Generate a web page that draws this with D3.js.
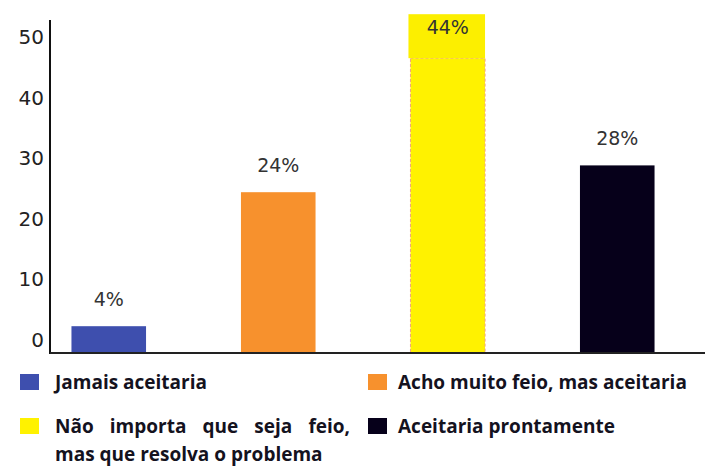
<!DOCTYPE html>
<html>
<head>
<meta charset="utf-8">
<script src="https://cdn.jsdelivr.net/npm/d3@7"></script>
<style>
  body { margin: 0; background: #fff; }
  svg { display: block; }
</style>
</head>
<body>
<div id="chart"></div>
<script>
// Data
const categories = ["Jamais aceitaria", "Acho muito feio, mas aceitaria",
  "Não importa que seja feio, mas que resolva o problema", "Aceitaria prontamente"];
const values = [4, 24, 44, 28];
const colors = ["#3e4fae", "#f7912d", "#fff200", "#06001a"];
const tickValues = [0, 10, 20, 30, 40, 50];

// Sets the size of the picture
const svgWidth = 705;
const svgHeight = 467;
const baseY = 353;
const axisX = 50;

const svg = d3.select("#chart").append("svg")
  .attr("width", svgWidth)
  .attr("height", svgHeight);

svg.append("rect").attr("width", svgWidth).attr("height", svgHeight).attr("fill", "#fff");

// Scales
const xScale = d3.scaleBand()
  .domain(categories)
  .range([24, 702])
  .paddingInner(0.56)
  .paddingOuter(0.28);

const yScale = d3.scaleLinear().domain([0, 50]).range([baseY, baseY - 335]);

// tick labels sit a bit above the bars' baseline in the original
const tickScale = d3.scaleLinear().domain([0, 50]).range([340, 37]);

// Bars
svg.selectAll(".bar")
  .data(values)
  .enter()
  .append("rect")
  .attr("class", "bar")
  .attr("x", (d, i) => xScale(categories[i]))
  .attr("width", xScale.bandwidth())
  .attr("y", d => yScale(d))
  .attr("height", d => baseY - yScale(d))
  .attr("fill", (d, i) => colors[i])
  .attr("stroke", (d, i) => i === 2 ? "#f2a080" : "none")
  .attr("stroke-dasharray", "3,2");

// Highlight box behind the biggest value
const maxIdx = values.indexOf(d3.max(values));
svg.append("rect")
  .attr("x", xScale(categories[maxIdx]) - 2)
  .attr("width", xScale.bandwidth() + 2)
  .attr("y", yScale(values[maxIdx]) - 44)
  .attr("height", 44)
  .attr("fill", "#fcef00");

// Value labels
svg.selectAll(".val")
  .data(values)
  .enter()
  .append("text")
  .attr("class", "val")
  .attr("x", (d, i) => xScale(categories[i]) + xScale.bandwidth() / 2)
  .attr("y", (d, i) => i === maxIdx ? yScale(d) - 24 : yScale(d) - 20)
  .attr("text-anchor", "middle")
  .style("font", "19px 'DejaVu Sans', sans-serif")
  .style("fill", "#333")
  .text(d => d + "%");

// Axes lines
svg.append("line")
  .attr("x1", axisX).attr("x2", axisX)
  .attr("y1", 20).attr("y2", baseY + 1)
  .attr("stroke", "#111").attr("stroke-width", 2);

svg.append("line")
  .attr("x1", axisX).attr("x2", svgWidth)
  .attr("y1", baseY).attr("y2", baseY)
  .attr("stroke", "#222").attr("stroke-width", 2);

// Tick labels
const leftAxis = d3.axisLeft(tickScale).tickValues(tickValues).tickSize(0).tickPadding(0);
const yAxisG = svg.append("g")
  .attr("transform", "translate(44,0)")
  .call(leftAxis);
yAxisG.select(".domain").remove();
yAxisG.selectAll("text")
  .style("font", "20px 'DejaVu Sans', sans-serif")
  .style("fill", "#222");

// Legend
const legendItems = [
  { i: 0, x: 20, y: 374, lines: ["Jamais aceitaria"] },
  { i: 1, x: 368, y: 374, lines: ["Acho muito feio, mas aceitaria"] },
  { i: 2, x: 20, y: 418, lines: ["Não importa que seja feio,", "mas que resolva o problema"], justify: 295 },
  { i: 3, x: 368, y: 418, lines: ["Aceitaria prontamente"] }
];

const legend = svg.append("g");
legendItems.forEach(function(item) {
  legend.append("rect")
    .attr("x", item.x).attr("y", item.y)
    .attr("width", 19).attr("height", 16)
    .attr("fill", colors[item.i]);
  item.lines.forEach(function(line, k) {
    const t = legend.append("text")
      .attr("x", item.x + (item.x < 100 ? 35 : 30))
      .attr("y", item.y + 15 + k * 28)
      .style("font", "bold 19px 'Open Sans', sans-serif")
      .style("fill", "#14121e")
      .text(line);
    // first line of the long label is justified
    if (item.justify && k === 0) {
      const natural = t.node().getComputedTextLength();
      const gaps = line.split(" ").length - 1;
      t.attr("word-spacing", Math.max(0, (item.justify - natural) / gaps));
    }
  });
});
</script>
</body>
</html>
